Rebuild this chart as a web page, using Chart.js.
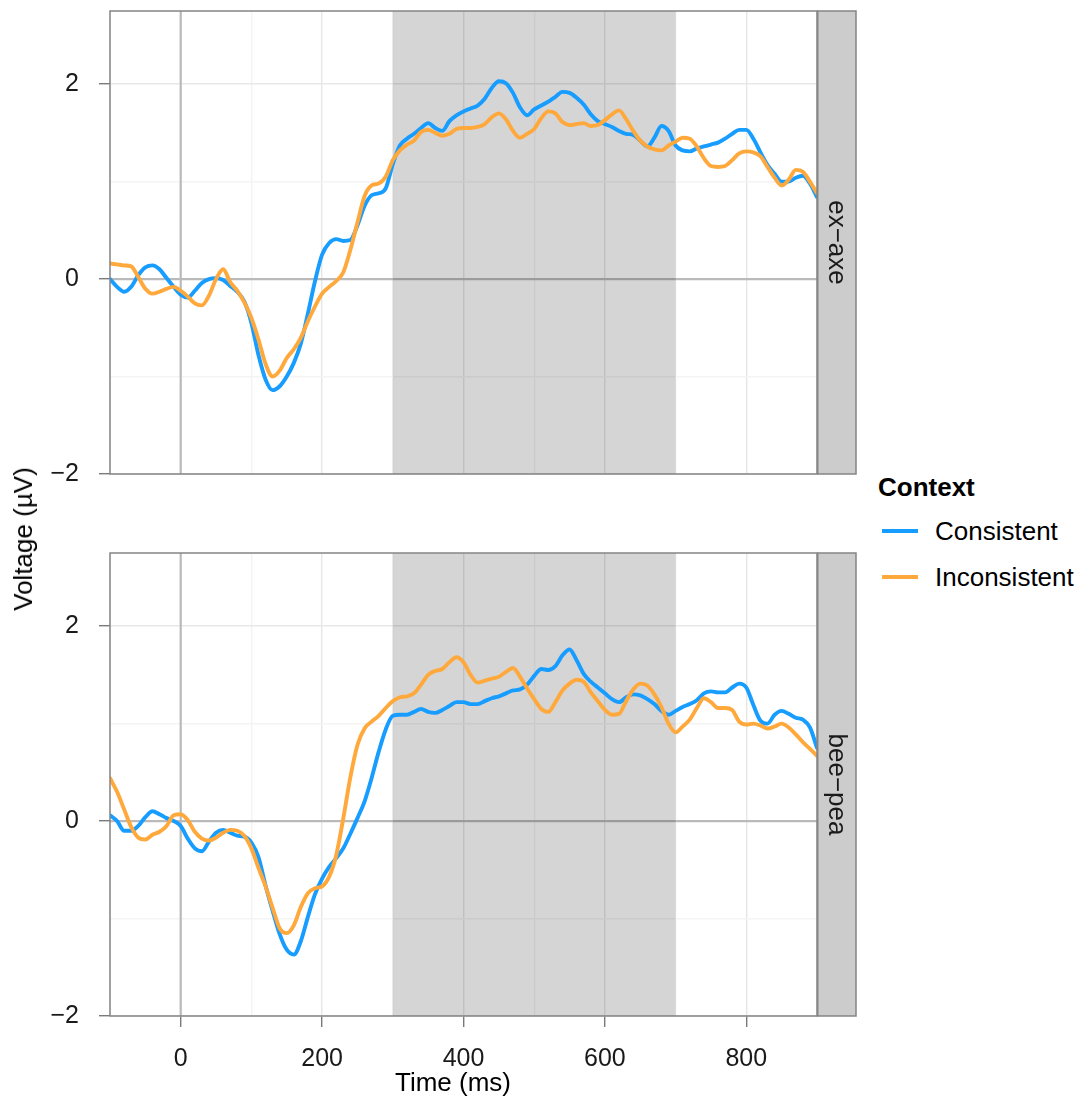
<!DOCTYPE html>
<html>
<head>
<meta charset="utf-8">
<script src="https://cdn.jsdelivr.net/npm/chart.js@4.4.1/dist/chart.umd.min.js"></script>
<style>
  html, body { margin: 0; padding: 0; background: #fff; }
  #wrap { position: relative; width: 1086px; height: 1103px; overflow: hidden;
          font-family: "Liberation Sans", Arial, sans-serif; color: #000; }
  #wrap canvas { position: absolute; left: 0; }
  .txt { position: absolute; white-space: nowrap; line-height: 26px; font-size: 26px; }
  .key { position: absolute; height: 4px; width: 36px; }
</style>
</head>
<body>
<div id="wrap">
  <canvas id="panelTop" width="870" height="490" style="top:0px"></canvas>
  <canvas id="panelBottom" width="870" height="563" style="top:540px"></canvas>
  <div id="ytitle" class="txt" style="left:23px;top:539px;transform:translate(-50%,-50%) rotate(-90deg);"></div>
  <div id="xtitle" class="txt" style="left:453px;top:1069px;transform:translateX(-50%);"></div>
  <div id="legend"></div>
</div>
<script>
// Time axis (ms), one sample every 10 ms
const times = [
  -100, -90, -80, -70, -60, -50, -40, -30, -20, -10,
  0, 10, 20, 30, 40, 50, 60, 70, 80, 90,
  100, 110, 120, 130, 140, 150, 160, 170, 180, 190,
  200, 210, 220, 230, 240, 250, 260, 270, 280, 290,
  300, 310, 320, 330, 340, 350, 360, 370, 380, 390,
  400, 410, 420, 430, 440, 450, 460, 470, 480, 490,
  500, 510, 520, 530, 540, 550, 560, 570, 580, 590,
  600, 610, 620, 630, 640, 650, 660, 670, 680, 690,
  700, 710, 720, 730, 740, 750, 760, 770, 780, 790,
  800, 810, 820, 830, 840, 850, 860, 870, 880, 890,
  900
];

// Word pairs shown as facets
const panels = ['ex\u2212axe', 'bee\u2212pea'];
const seriesNames = ['Consistent', 'Inconsistent'];
const legendTitle = 'Context';

// Grand-average voltage (µV), ex-axe
const exAxeConsistent = [
   0.00, -0.08, -0.13, -0.08,  0.04,  0.12,  0.14,  0.10,  0.01, -0.08,
  -0.16, -0.19, -0.12, -0.04,  0.00,  0.01, -0.01, -0.07, -0.13, -0.23,
  -0.45, -0.78, -1.03, -1.14, -1.10, -1.00, -0.86, -0.66, -0.35, -0.02,
   0.25,  0.37,  0.41,  0.39,  0.40,  0.55,  0.75,  0.86,  0.88,  0.93,
   1.18,  1.37,  1.44,  1.49,  1.55,  1.60,  1.55,  1.52,  1.62,  1.68,
   1.72,  1.75,  1.78,  1.85,  1.96,  2.03,  2.01,  1.91,  1.76,  1.68,
   1.74,  1.78,  1.82,  1.87,  1.92,  1.91,  1.86,  1.79,  1.69,  1.62,
   1.59,  1.56,  1.52,  1.49,  1.48,  1.42,  1.36,  1.45,  1.57,  1.52,
   1.37,  1.32,  1.31,  1.34,  1.36,  1.38,  1.40,  1.44,  1.49,  1.53,
   1.53,  1.44,  1.30,  1.17,  1.08,  1.00,  1.00,  1.04,  1.06,  0.98,
   0.84
];
const exAxeInconsistent = [
   0.16,  0.15,  0.14,  0.13,  0.02, -0.10, -0.15, -0.13, -0.10, -0.08,
  -0.12, -0.18, -0.25, -0.27, -0.17,  0.00,  0.10, -0.03, -0.12, -0.24,
  -0.40, -0.62, -0.87, -1.00, -0.94, -0.81, -0.72, -0.60, -0.43, -0.28,
  -0.15, -0.08, -0.02,  0.07,  0.30,  0.58,  0.85,  0.96,  0.98,  1.05,
   1.22,  1.32,  1.38,  1.42,  1.51,  1.53,  1.50,  1.47,  1.49,  1.54,
   1.55,  1.55,  1.56,  1.59,  1.66,  1.70,  1.64,  1.52,  1.45,  1.49,
   1.54,  1.65,  1.72,  1.70,  1.61,  1.58,  1.59,  1.60,  1.57,  1.58,
   1.63,  1.69,  1.73,  1.64,  1.52,  1.42,  1.36,  1.33,  1.32,  1.37,
   1.41,  1.45,  1.44,  1.36,  1.24,  1.16,  1.15,  1.16,  1.22,  1.29,
   1.31,  1.30,  1.26,  1.15,  1.04,  0.96,  1.02,  1.12,  1.10,  1.00,
   0.88
];

// Grand-average voltage (µV), bee-pea
const beePeaConsistent = [
   0.06,  0.00, -0.10, -0.10, -0.05,  0.04,  0.10,  0.07,  0.03,  0.00,
  -0.05, -0.18, -0.28, -0.31, -0.21, -0.12, -0.09, -0.12, -0.15, -0.16,
  -0.22, -0.37, -0.66, -0.92, -1.16, -1.32, -1.37, -1.23, -0.98, -0.75,
  -0.59, -0.47, -0.38, -0.28, -0.13,  0.03,  0.20,  0.44,  0.71,  0.94,
   1.08,  1.09,  1.09,  1.12,  1.15,  1.12,  1.11,  1.14,  1.18,  1.22,
   1.22,  1.20,  1.20,  1.23,  1.26,  1.28,  1.31,  1.34,  1.35,  1.40,
   1.49,  1.56,  1.55,  1.59,  1.70,  1.76,  1.65,  1.51,  1.43,  1.37,
   1.31,  1.25,  1.22,  1.27,  1.30,  1.29,  1.25,  1.20,  1.13,  1.09,
   1.13,  1.17,  1.20,  1.24,  1.31,  1.33,  1.32,  1.32,  1.37,  1.41,
   1.37,  1.19,  1.03,  1.00,  1.09,  1.13,  1.10,  1.06,  1.04,  0.96,
   0.75
];
const beePeaInconsistent = [
   0.44,  0.30,  0.12, -0.06, -0.17, -0.19, -0.14, -0.11, -0.05,  0.06,
   0.07,  0.01, -0.11, -0.18, -0.20, -0.17, -0.12, -0.09, -0.10, -0.15,
  -0.28, -0.48, -0.67, -0.89, -1.10, -1.15, -1.07, -0.88, -0.74, -0.69,
  -0.67, -0.57, -0.35,  0.03,  0.45,  0.78,  0.95,  1.02,  1.08,  1.16,
   1.23,  1.27,  1.28,  1.31,  1.40,  1.50,  1.54,  1.56,  1.63,  1.68,
   1.63,  1.50,  1.42,  1.44,  1.46,  1.48,  1.53,  1.57,  1.48,  1.36,
   1.25,  1.15,  1.12,  1.22,  1.34,  1.41,  1.45,  1.43,  1.32,  1.23,
   1.14,  1.09,  1.10,  1.23,  1.35,  1.41,  1.39,  1.30,  1.17,  1.00,
   0.91,  0.97,  1.04,  1.16,  1.26,  1.22,  1.16,  1.16,  1.14,  1.02,
   0.99,  1.00,  0.98,  0.95,  0.97,  1.00,  0.96,  0.89,  0.81,  0.74,
   0.67
];

// Axis ticks and analysis window
const xTicks = [-100, 0, 100, 200, 300, 400, 500, 600, 700, 800, 900];
const yTicks = [-2, -1, 0, 1, 2];
const xRange = [-100, 900];
const yRange = [-2, 2.75];
const windowMs = [300, 700];

const colors = ['#179cff', '#ffa83c'];
const FONT = '"Liberation Sans", Arial, sans-serif';
Chart.defaults.font.family = FONT;

const fmt = v => (v < 0 ? '\u2212' + Math.abs(v) : String(v));

// Reference lines, shaded window, panel frame and facet strip
const panelDecor = {
  id: 'panelDecor',
  beforeDatasetsDraw(chart) {
    const { ctx, chartArea: a, scales: { x, y } } = chart;
    ctx.save();
    ctx.beginPath(); ctx.rect(a.left, a.top, a.width, a.height); ctx.clip();
    ctx.strokeStyle = '#bababa';
    ctx.lineWidth = 2.2;
    const y0 = y.getPixelForValue(0), x0 = x.getPixelForValue(0);
    ctx.beginPath(); ctx.moveTo(a.left, y0); ctx.lineTo(a.right, y0); ctx.stroke();
    ctx.beginPath(); ctx.moveTo(x0, a.top); ctx.lineTo(x0, a.bottom); ctx.stroke();
    const xa = x.getPixelForValue(windowMs[0]), xb = x.getPixelForValue(windowMs[1]);
    ctx.fillStyle = 'rgba(0,0,0,0.165)';
    ctx.fillRect(xa, a.top, xb - xa, a.height);
    ctx.restore();
  },
  afterDraw(chart, args, opts) {
    const { ctx, chartArea: a } = chart;
    ctx.save();
    ctx.strokeStyle = '#858585';
    ctx.lineWidth = 1.5;
    ctx.strokeRect(a.left, a.top, a.width, a.height);
    const sw = 39;
    ctx.fillStyle = '#cccccc';
    ctx.fillRect(a.right, a.top, sw, a.height);
    ctx.strokeRect(a.right + 0.75, a.top, sw - 0.75, a.height);
    ctx.fillStyle = '#1a1a1a';
    ctx.font = '26px ' + FONT;
    ctx.textAlign = 'center';
    ctx.textBaseline = 'middle';
    ctx.translate(a.right + sw / 2, (a.top + a.bottom) / 2);
    ctx.rotate(Math.PI / 2);
    ctx.fillText(opts.label, 0, 0);
    ctx.restore();
  }
};

function makePanel(canvasId, label, consistent, inconsistent, showX, padTop, xHeight) {
  const series = [consistent, inconsistent];
  return new Chart(document.getElementById(canvasId), {
    type: 'line',
    data: {
      datasets: series.map((vals, i) => ({
        label: seriesNames[i],
        data: times.map((t, k) => ({ x: t, y: vals[k] })),
        borderColor: colors[i],
        borderWidth: 3.9,
        pointRadius: 0,
        cubicInterpolationMode: 'monotone',
        borderCapStyle: 'round',
        borderJoinStyle: 'round',
        fill: false
      })).reverse()
    },
    options: {
      responsive: false,
      animation: false,
      devicePixelRatio: 1,
      events: [],
      layout: { padding: { left: 0, top: padTop, right: 53, bottom: 0 } },
      plugins: {
        legend: { display: false },
        tooltip: { enabled: false },
        panelDecor: { label }
      },
      scales: {
        x: {
          type: 'linear',
          min: xRange[0], max: xRange[1],
          afterBuildTicks: s => { s.ticks = xTicks.map(v => ({ value: v })); },
          afterFit: s => { s.height = xHeight; s.paddingLeft = 0; s.paddingRight = 0; },
          border: { display: false },
          grid: {
            color: c => (c.tick && c.tick.value % 200 === 0 ? '#e6e6e6' : '#f3f3f3'),
            lineWidth: 1.4,
            drawTicks: showX,
            tickLength: 11,
            tickWidth: 1.4,
            tickColor: c => (c.tick && c.tick.value % 200 === 0 ? '#7a7a7a' : 'rgba(0,0,0,0)')
          },
          ticks: {
            display: showX,
            autoSkip: false,
            maxRotation: 0,
            padding: 17,
            color: '#1a1a1a',
            font: { size: 25 },
            callback: v => (v % 200 === 0 ? fmt(v) : '')
          }
        },
        y: {
          min: yRange[0], max: yRange[1],
          afterBuildTicks: s => { s.ticks = yTicks.map(v => ({ value: v })); },
          afterFit: s => { s.width = 110; s.paddingTop = 0; s.paddingBottom = 0; },
          border: { display: false },
          grid: {
            color: c => (c.tick && c.tick.value % 2 === 0 ? '#e8e8e8' : '#f4f4f4'),
            lineWidth: 1.4,
            tickLength: 11,
            tickWidth: 1.4,
            tickColor: c => (c.tick && c.tick.value % 2 === 0 ? '#7a7a7a' : 'rgba(0,0,0,0)')
          },
          ticks: {
            autoSkip: false,
            padding: 20,
            color: '#1a1a1a',
            font: { size: 25 },
            callback: v => (v % 2 === 0 ? fmt(v) : '')
          }
        }
      }
    },
    plugins: [panelDecor]
  });
}

makePanel('panelTop', panels[0], exAxeConsistent, exAxeInconsistent, false, 11, 16);
makePanel('panelBottom', panels[1], beePeaConsistent, beePeaInconsistent, true, 13, 87);

// Axis titles
document.getElementById('ytitle').textContent = 'Voltage (\u00b5V)';
document.getElementById('xtitle').textContent = 'Time (ms)';

// Legend
const legend = document.getElementById('legend');
const lt = document.createElement('div');
lt.className = 'txt';
lt.style.cssText = 'left:878px;top:474px;font-weight:bold;';
lt.textContent = legendTitle;
legend.appendChild(lt);
seriesNames.forEach((name, i) => {
  const cy = 530.5 + i * 46;
  const key = document.createElement('div');
  key.className = 'key';
  key.style.cssText = `left:882px;top:${cy - 2}px;background:${colors[i]};`;
  legend.appendChild(key);
  const lab = document.createElement('div');
  lab.className = 'txt';
  lab.style.cssText = `left:935px;top:${cy - 13}px;`;
  lab.textContent = name;
  legend.appendChild(lab);
});
</script>
</body>
</html>
